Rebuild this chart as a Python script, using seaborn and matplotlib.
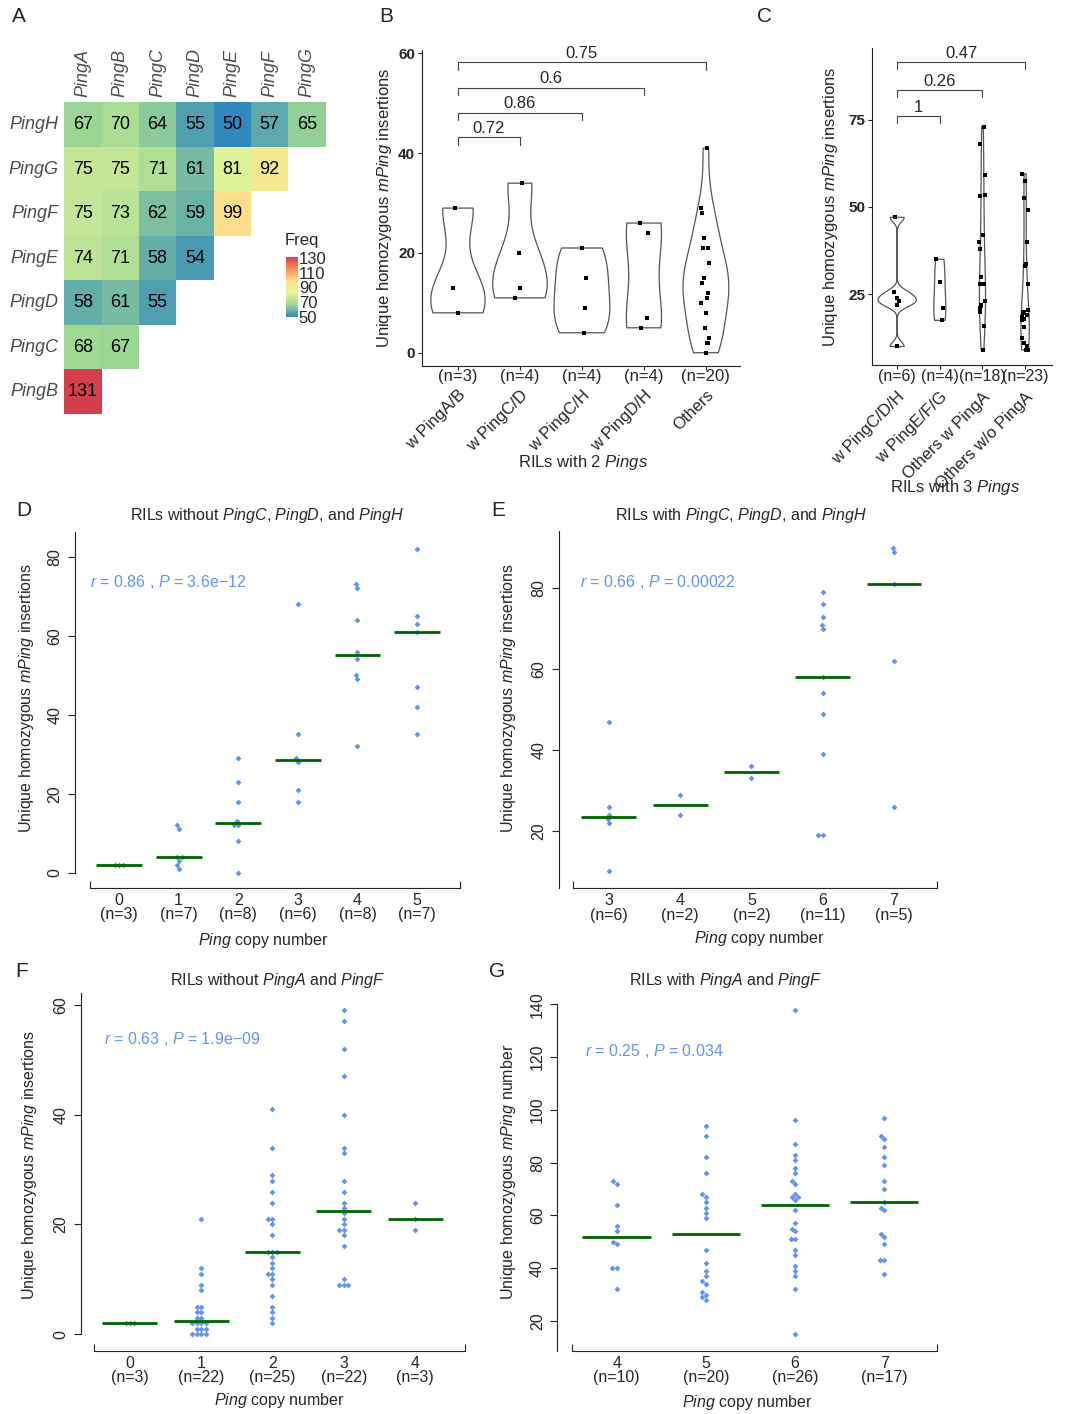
import numpy as np
import pandas as pd
import matplotlib
matplotlib.use("Agg")
import matplotlib.pyplot as plt
from matplotlib import transforms
from matplotlib.colors import LinearSegmentedColormap
import seaborn as sns

# ---------------- data ----------------
# A: pairwise frequency of Ping combinations
ping_cols = ["PingA", "PingB", "PingC", "PingD", "PingE", "PingF", "PingG"]
ping_rows = ["PingH", "PingG", "PingF", "PingE", "PingD", "PingC", "PingB"]
freq_H = [67, 70, 64, 55, 50, 57, 65]
freq_G = [75, 75, 71, 61, 81, 92]
freq_F = [75, 73, 62, 59, 99]
freq_E = [74, 71, 58, 54]
freq_D = [58, 61, 55]
freq_C = [68, 67]
freq_B = [131]

# B: RILs with 2 Pings
b_groups = ["w PingA/B", "w PingC/D", "w PingC/H", "w PingD/H", "Others"]
b_AB = [29, 13, 8]
b_CD = [34, 20, 13, 11]
b_CH = [21, 15, 9, 4]
b_DH = [26, 24, 7, 5]
b_others = [41, 29, 28, 23, 21, 21, 18, 15, 15, 14, 14, 12, 11, 10, 8, 5, 3, 2, 2, 0]
b_pvals = ["0.72", "0.86", "0.6", "0.75"]
b_bracket_y = [43.2, 48.1, 53.1, 58.2]

# C: RILs with 3 Pings
c_groups = ["w PingC/D/H", "w PingE/F/G", "Others w PingA", "Others w/o PingA"]
c_CDH = [47, 25.5, 24, 23, 22, 10]
c_EFG = [35, 28.5, 21, 17.5]
c_othA = [73, 68, 59, 53.5, 53, 42, 40, 38, 30, 28, 28, 23, 22, 21.5, 21, 20, 16, 9]
c_othnoA = [59.5, 57.5, 52.5, 49, 40, 33.5, 33, 28, 20.5, 20, 19.5, 19, 18.5, 18,
            17.5, 15.5, 12.5, 11, 10, 9, 9, 9, 9]
c_pvals = ["1", "0.26", "0.47"]
c_bracket_y = [76.0, 83.6, 91.5]

# D: without PingC, PingD, PingH
d_copies = [0, 1, 2, 3, 4, 5]
d_0 = [2, 2, 2]
d_1 = [12, 11, 4, 4, 3, 2, 1]
d_2 = [29, 23, 18, 13, 12, 12, 8, 0]
d_3 = [68, 35, 29, 28, 21, 18]
d_4 = [73, 72, 64, 56, 54, 50, 49, 32]
d_5 = [82, 65, 63, 61, 47, 42, 35]

# E: with PingC, PingD, PingH
e_copies = [3, 4, 5, 6, 7]
e_3 = [47, 26, 24, 23, 22, 10]
e_4 = [29, 24]
e_5 = [36, 33]
e_6 = [79, 76, 73, 71, 70, 58, 54, 49, 39, 19, 19]
e_7 = [90, 89, 81, 62, 26]

# F: without PingA and PingF
f_copies = [0, 1, 2, 3, 4]
f_0 = [2, 2, 2]
f_1 = [21, 12, 11, 9, 8, 5, 5, 4, 4, 3, 3, 2, 2, 2, 2, 1, 1, 1, 0, 0, 0, 0]
f_2 = [41, 34, 29, 28, 26, 24, 21, 21, 20, 18, 15, 15, 15, 14, 13, 12, 11, 11,
       10, 9, 7, 5, 4, 3, 2]
f_3 = [59, 57, 52, 47, 40, 34, 33, 28, 26, 24, 23, 22, 21, 20, 19, 19, 18, 16,
       10, 9, 9, 9]
f_4 = [24, 21, 19]

# G: with PingA and PingF
g_copies = [4, 5, 6, 7]
g_4 = [73, 72, 64, 56, 54, 50, 49, 40, 40, 32]
g_5 = [94, 90, 82, 76, 68, 67, 65, 63, 61, 59, 47, 42, 39, 37, 35, 34, 31, 30, 29, 28]
g_6 = [138, 96, 87, 83, 81, 78, 76, 73, 72, 68, 67, 67, 66, 62, 57, 55, 54, 51, 51,
       47, 45, 41, 39, 37, 32, 15]
g_7 = [97, 90, 89, 86, 82, 79, 73, 70, 65, 63, 62, 53, 52, 49, 43, 43, 38]

stats_text = {
    "D": r"$\it{r}$ = 0.86 , $\it{P}$ = 3.6e−12",
    "E": r"$\it{r}$ = 0.66 , $\it{P}$ = 0.00022",
    "F": r"$\it{r}$ = 0.63 , $\it{P}$ = 1.9e−09",
    "G": r"$\it{r}$ = 0.25 , $\it{P}$ = 0.034",
}

# ---------------- style ----------------
sns.set_style("ticks")
plt.rcParams.update({
    "font.family": ["Liberation Sans", "DejaVu Sans"],
    "mathtext.fontset": "custom",
    "mathtext.rm": "Liberation Sans",
    "mathtext.it": "Liberation Sans:italic",
    "mathtext.bf": "Liberation Sans:bold",
    "axes.unicode_minus": False,
})

W, H = 1065, 1414
fig = plt.figure(figsize=(W / 100, H / 100), dpi=100)

BLUE = "#6495ED"
GREEN = "#006400"
LINE = "#222222"


def box(x0, y0, x1, y1):
    return [x0 / W, 1 - y1 / H, (x1 - x0) / W, (y1 - y0) / H]


def ftext(x, y, s, **kw):
    fig.text(x / W, 1 - y / H, s, **kw)


def nrd0(kde):
    # R's default bandwidth (bw.nrd0) expressed as a gaussian_kde factor
    x = kde.dataset[0]
    sd = np.std(x, ddof=1)
    q75, q25 = np.percentile(x, [75, 25])
    lo = min(sd, (q75 - q25) / 1.34)
    if lo <= 0:
        lo = sd
    return 0.9 * lo * len(x) ** -0.2 / sd


# panel letters
for lab, (x, y) in {"A": (12, 7), "B": (379, 7), "C": (757, 7), "D": (16, 501),
                    "E": (491, 501), "F": (15, 962), "G": (489, 962)}.items():
    ftext(x, y, lab, fontsize=15, ha="left", va="top")

# ---------------- A: heatmap ----------------
mat = pd.DataFrame([v + [np.nan] * (7 - len(v)) for v in
                    [freq_H, freq_G, freq_F, freq_E, freq_D, freq_C, freq_B]],
                   index=ping_rows, columns=ping_cols)
spectral = LinearSegmentedColormap.from_list(
    "spec", ["#3288BD", "#99D594", "#E6F598", "#FEE08B", "#FC8D59", "#D53E4F"])
axA = fig.add_axes(box(64.3, 102.3, 325.7, 414))
caxA = fig.add_axes(box(286, 257, 297.5, 317))
sns.heatmap(mat, ax=axA, cmap=spectral, vmin=50, vmax=131, annot=True, fmt=".0f",
            annot_kws=dict(size=13, color="black"), cbar_ax=caxA,
            xticklabels=ping_cols, yticklabels=ping_rows)
axA.set_xlabel("")
axA.set_ylabel("")
axA.xaxis.tick_top()
axA.set_xticklabels(ping_cols, rotation=90, style="italic", color="#4d4d4d", fontsize=13)
axA.set_yticklabels(ping_rows, rotation=0, style="italic", color="#4d4d4d", fontsize=13)
axA.tick_params(length=0, pad=4)
cb = axA.collections[0].colorbar
cb.outline.set_visible(False)
cb.set_ticks([50, 70, 90, 110, 130])
caxA.tick_params(labelsize=12, length=3, color="white", direction="in", pad=1)
ftext(285, 240, "Freq", fontsize=12, ha="left", va="center")


# ---------------- B & C: violins ----------------
def violin_panel(px_box, groups, values, ylim, xlim, yticks, pvals, bracket_y,
                 tick_drop, label_off, rot_pad, n_off, n_size):
    ax = fig.add_axes(box(*px_box))
    df = pd.DataFrame({"group": np.repeat(groups, [len(v) for v in values]),
                       "value": np.concatenate(values)})
    sns.violinplot(data=df, x="group", y="value", order=groups, ax=ax, cut=0,
                   density_norm="area", width=0.9, inner=None, fill=False,
                   color="#555555", linecolor="#555555", linewidth=0.9,
                   bw_method=nrd0)
    np.random.seed(11)
    sns.stripplot(data=df, x="group", y="value", order=groups, ax=ax, jitter=0.08,
                  marker="s", size=2.8, color="black", linewidth=0, zorder=3)
    ax.set_xlim(*xlim)
    ax.set_ylim(*ylim)
    ax.set_yticks(yticks)
    ax.set_yticklabels([str(t) for t in yticks], fontsize=11, fontweight="bold")
    ax.set_xticks(range(len(groups)))
    ax.set_xticklabels(groups, rotation=45, ha="right", va="top",
                       rotation_mode="anchor", fontsize=12)
    ax.tick_params(axis="x", length=3, pad=rot_pad, color=LINE)
    ax.tick_params(axis="y", length=3, pad=2, color=LINE)
    ax.set_xlabel("")
    ax.set_ylabel("")
    for s in ["top", "right"]:
        ax.spines[s].set_visible(False)
    for s in ["left", "bottom"]:
        ax.spines[s].set_color(LINE)
        ax.spines[s].set_linewidth(0.8)
    trans = ax.get_xaxis_transform() + transforms.ScaledTranslation(0, -n_off / 100,
                                                                     fig.dpi_scale_trans)
    for i, v in enumerate(values):
        ax.text(i, 0, f"(n={len(v)})", transform=trans, ha="center", va="center",
                fontsize=n_size)
    for j, (p, yb) in enumerate(zip(pvals, bracket_y)):
        x2 = j + 1
        ax.plot([0, 0, x2, x2], [yb - tick_drop, yb, yb, yb - tick_drop],
                color="#444444", lw=0.8, clip_on=False)
        ax.text(x2 / 2, yb + label_off, p, ha="center", va="center", fontsize=12)
    return ax


violin_panel((422, 50, 740, 365.7), b_groups, [b_AB, b_CD, b_CH, b_DH, b_others],
             (-2.6, 60.7), (-0.58, 4.55), [0, 20, 40, 60], b_pvals, b_bracket_y,
             1.5, 1.8, 12.5, 11, 12)
ftext(385, 208, r"Unique homozygous $\it{mPing}$ insertions", rotation=90,
      ha="center", va="center", fontsize=12)
ftext(583, 463, r"RILs with 2 $\it{Pings}$", ha="center", va="center", fontsize=12)

violin_panel((872, 48, 1052, 365), c_groups, [c_CDH, c_EFG, c_othA, c_othnoA],
             (4.7, 95.5), (-0.59, 3.63), [25, 50, 75], c_pvals, c_bracket_y,
             2.0, 2.4, 14.5, 11.7, 11.5)
ftext(831, 207, r"Unique homozygous $\it{mPing}$ insertions", rotation=90,
      ha="center", va="center", fontsize=12)
ftext(955, 488, r"RILs with 3 $\it{Pings}$", ha="center", va="center", fontsize=12)


# ---------------- D-G: beeswarms ----------------
def swarm_panel(px_box, copies, groups, ylim, ybounds, yticks, xlim, xbounds):
    ax = fig.add_axes(box(*px_box))
    labels = [f"{c}\n(n={len(v)})" for c, v in zip(copies, groups)]
    df = pd.DataFrame({"copy": np.repeat(labels, [len(v) for v in groups]),
                       "value": np.concatenate(groups)})
    sns.swarmplot(data=df, x="copy", y="value", order=labels, ax=ax, color=BLUE,
                  marker="D", size=3.0, linewidth=0)
    for i, v in enumerate(groups):
        ax.hlines(np.median(v), i - 0.385, i + 0.385, color=GREEN, lw=2, zorder=4)
    ax.set_xlim(*xlim)
    ax.set_ylim(*ylim)
    ax.set_xlabel("")
    ax.set_ylabel("")
    ax.set_yticks(yticks)
    ax.set_yticklabels([str(t) for t in yticks], fontsize=11.5, rotation=90,
                       va="center", ha="right")
    ax.set_xticks(range(len(labels)))
    ax.set_xticklabels(labels, fontsize=11.5, linespacing=0.95)
    ax.set_xticks(list(xbounds), minor=True)
    ax.tick_params(axis="x", which="major", length=0, pad=3.5)
    ax.tick_params(axis="x", which="minor", direction="in", length=5, color=LINE,
                   width=0.8)
    ax.tick_params(axis="y", length=5, pad=4, color=LINE, width=0.8)
    for s in ["top", "right"]:
        ax.spines[s].set_visible(False)
    for s in ["left", "bottom"]:
        ax.spines[s].set_color(LINE)
        ax.spines[s].set_linewidth(0.8)
    ax.spines["left"].set_bounds(*ybounds)
    ax.spines["bottom"].set_bounds(*xbounds)
    return ax


ylab = r"Unique homozygous $\it{mPing}$ insertions"
swarm_panel((75, 531.7, 460, 888), d_copies, [d_0, d_1, d_2, d_3, d_4, d_5],
            (-3.87, 86.33), (0, 86.33), [0, 20, 40, 60, 80], (-0.738, 5.72), (-0.49, 5.72))
ftext(267, 516, r"RILs without $\it{PingC}$, $\it{PingD}$, and $\it{PingH}$",
      ha="center", va="center", fontsize=11.5)
ftext(90, 581.7, stats_text["D"], color=BLUE, ha="left", va="center", fontsize=11.5)
ftext(27, 698, ylab, rotation=90, ha="center", va="center", fontsize=11.5)
ftext(263, 940.7, r"$\it{Ping}$ copy number", ha="center", va="center", fontsize=11.5)

swarm_panel((559, 530.7, 936.7, 888.3), e_copies, [e_3, e_4, e_5, e_6, e_7],
            (5.83, 94.24), (5.83, 94.24), [20, 40, 60, 80], (-0.70, 4.6), (-0.5, 4.6))
ftext(741, 516, r"RILs with $\it{PingC}$, $\it{PingD}$, and $\it{PingH}$",
      ha="center", va="center", fontsize=11.5)
ftext(580, 581.7, stats_text["E"], color=BLUE, ha="left", va="center", fontsize=11.5)
ftext(508, 698, ylab, rotation=90, ha="center", va="center", fontsize=11.5)
ftext(759, 938, r"$\it{Ping}$ copy number", ha="center", va="center", fontsize=11.5)

swarm_panel((80.7, 993.3, 465, 1350.7), f_copies, [f_0, f_1, f_2, f_3, f_4],
            (-2.99, 62.1), (0, 62.1), [0, 20, 40, 60], (-0.69, 4.70), (-0.5, 4.7))
ftext(278, 980, r"RILs without $\it{PingA}$ and $\it{PingF}$",
      ha="center", va="center", fontsize=11.5)
ftext(104, 1039, stats_text["F"], color=BLUE, ha="left", va="center", fontsize=11.5)
ftext(30, 1165, ylab, rotation=90, ha="center", va="center", fontsize=11.5)
ftext(279, 1400, r"$\it{Ping}$ copy number", ha="center", va="center", fontsize=11.5)

swarm_panel((557.3, 1004.3, 936.7, 1350.7), g_copies, [g_4, g_5, g_6, g_7],
            (8.75, 140.0), (8.75, 140.0), [20, 40, 60, 80, 100, 120, 140],
            (-0.667, 3.59), (-0.5, 3.59))
ftext(726, 980, r"RILs with $\it{PingA}$ and $\it{PingF}$",
      ha="center", va="center", fontsize=11.5)
ftext(585, 1051, stats_text["G"], color=BLUE, ha="left", va="center", fontsize=11.5)
ftext(508, 1172, r"Unique homozygous $\it{mPing}$ number", rotation=90,
      ha="center", va="center", fontsize=11.5)
ftext(747, 1403, r"$\it{Ping}$ copy number", ha="center", va="center", fontsize=11.5)

fig.savefig("out.png", dpi=100)
